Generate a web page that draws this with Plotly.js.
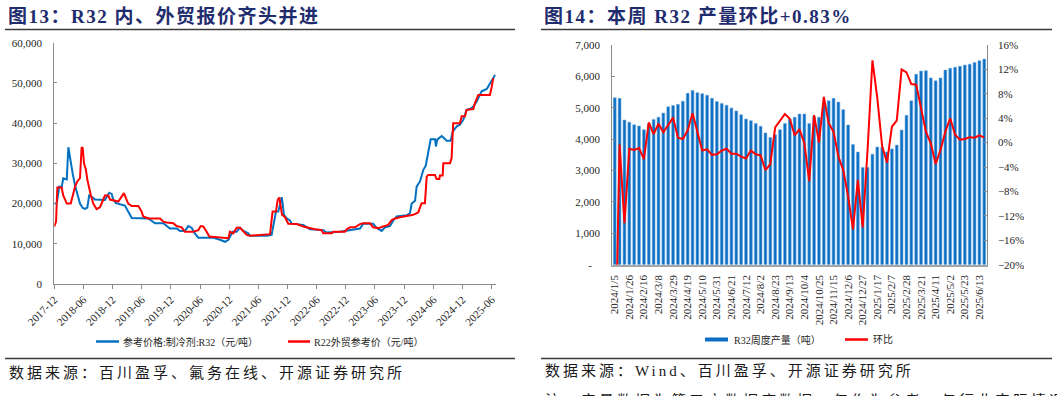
<!DOCTYPE html>
<html>
<head>
<meta charset="utf-8">
<script src="https://cdn.plot.ly/plotly-3.0.1.min.js"></script>
<style>
html,body{margin:0;padding:0;background:#fff;}
#chart{width:1057px;height:396px;}
.annotation[data-index="0"] text,.annotation[data-index="1"] text{letter-spacing:1.5px;}
.annotation[data-index="2"] text,.annotation[data-index="3"] text,.annotation[data-index="4"] text{letter-spacing:3px;}
</style>
</head>
<body>
<div id="chart"></div>
<script>
// ---------- Chart 13: R32 domestic price vs R22 export price (yuan/ton) ----------
const r32Dates = ['2017-12-01','2017-12-16','2018-01-01','2018-01-16','2018-01-26','2018-02-17','2018-02-27','2018-03-14','2018-03-26','2018-04-10','2018-04-24','2018-05-11','2018-05-28','2018-06-11','2018-06-26','2018-07-08','2018-08-13','2018-09-24','2018-10-14','2018-11-10','2018-11-25','2018-12-05','2018-12-22','2019-02-16','2019-03-03','2019-03-24','2019-03-31','2019-07-13','2019-08-03','2019-08-24','2019-10-15','2019-11-05','2019-11-25','2020-01-06','2020-01-27','2020-02-27','2020-03-19','2020-04-09','2020-04-30','2020-05-21','2020-08-23','2020-10-04','2020-11-04','2020-11-25','2020-12-22','2021-01-16','2021-02-06','2021-02-27','2021-03-30','2021-04-09','2021-07-23','2021-08-23','2021-09-02','2021-09-19','2021-10-04','2021-10-25','2021-10-31','2021-11-08','2021-11-25','2021-12-16','2021-12-26','2022-03-09','2022-04-20','2022-07-12','2022-08-02','2022-10-25','2023-02-27','2023-03-20','2023-05-21','2023-06-12','2023-07-13','2023-08-03','2023-09-03','2023-09-24','2023-10-15','2023-12-17','2024-01-06','2024-01-17','2024-02-07','2024-02-17','2024-03-09','2024-03-30','2024-04-14','2024-04-30','2024-05-15','2024-06-11','2024-06-17','2024-06-25','2024-07-23','2024-08-06','2024-08-23','2024-09-17','2024-09-30','2024-10-25','2024-11-14','2024-12-05','2024-12-26','2025-01-16','2025-02-06','2025-02-27','2025-03-30','2025-05-01','2025-05-21','2025-06-11','2025-06-22'];
const r32Price = [20000,20000,24200,24000,26300,26000,34000,30000,27500,24500,22300,20000,18900,18700,19000,22200,21000,21000,20900,22700,22400,21000,20100,19500,18400,16800,16400,16300,15800,15100,15100,14500,13800,13800,13200,13200,14400,14000,12500,11500,11500,11000,10500,11000,13000,13000,14000,13200,12600,12000,12000,12200,14300,18000,18000,21600,20000,17200,16300,15800,15000,14700,13600,13400,12800,13000,13800,15000,15000,13900,13200,14100,14400,15800,16800,17100,17600,20000,20700,24200,25500,28400,29400,32500,36000,36000,34200,35900,36800,36300,35600,35600,37900,39200,39600,40800,43300,43500,44100,45400,47900,48500,50000,51200,52000];

const r22Dates = ['2017-12-01','2017-12-12','2017-12-20','2018-01-16','2018-01-26','2018-02-17','2018-03-14','2018-03-30','2018-04-10','2018-04-24','2018-05-11','2018-05-21','2018-05-28','2018-06-05','2018-06-17','2018-06-26','2018-07-08','2018-07-17','2018-08-02','2018-08-23','2018-09-13','2018-10-04','2018-10-14','2018-11-04','2018-11-15','2019-01-06','2019-01-27','2019-02-10','2019-02-23','2019-03-09','2019-03-31','2019-05-11','2019-06-01','2019-06-11','2019-07-13','2019-09-24','2019-10-15','2019-11-05','2019-12-16','2020-01-06','2020-02-07','2020-02-27','2020-04-19','2020-05-21','2020-06-05','2020-06-21','2020-07-12','2020-07-29','2020-11-25','2020-12-05','2020-12-26','2021-01-16','2021-02-06','2021-02-27','2021-03-20','2021-04-09','2021-08-13','2021-08-29','2021-09-19','2021-09-30','2021-10-10','2021-10-19','2021-10-27','2021-11-15','2021-12-05','2022-01-27','2022-03-09','2022-05-21','2022-07-02','2022-07-12','2022-09-03','2022-09-13','2022-11-25','2022-12-06','2022-12-27','2023-01-27','2023-02-27','2023-03-20','2023-05-01','2023-05-21','2023-06-22','2023-07-23','2023-08-23','2023-09-14','2023-10-04','2023-11-05','2023-12-17','2024-01-27','2024-02-27','2024-03-19','2024-04-09','2024-04-20','2024-04-30','2024-06-11','2024-06-21','2024-07-08','2024-07-12','2024-07-29','2024-08-02','2024-09-13','2024-09-23','2024-10-03','2024-11-14','2024-11-25','2024-12-16','2024-12-26','2025-02-06','2025-02-16','2025-03-09','2025-05-21','2025-06-01','2025-06-11'];
const r22Price = [14300,15500,24000,24000,22000,20000,20000,22600,24200,25500,26300,34000,33800,30000,28400,25900,23600,22200,20000,18600,19100,21000,22000,22000,21000,20500,21700,22600,21300,20000,19400,19400,18000,16800,16300,16300,15500,15300,15100,14400,14100,13000,13000,13400,14400,14300,13000,11800,11400,13000,12600,14000,14000,13000,12200,12000,12400,18000,18000,20900,21500,19300,17200,16600,15000,14900,14300,13600,13400,12600,12600,13000,13000,13600,14100,14100,14900,15100,15100,14100,13900,14300,14700,15900,16300,16600,16900,17200,17800,20100,20100,26700,27100,27100,26100,26100,27000,27000,30000,30000,31300,40000,40000,41700,41700,43300,43500,45000,47000,47000,49000,51200];

// ---------- Chart 14: weekly R32 output (ton) and week-on-week change (%) ----------
const weeks = ['2024/1/5','2024/1/12','2024/1/19','2024/1/26','2024/2/2','2024/2/9','2024/2/16','2024/2/23','2024/3/1','2024/3/8','2024/3/15','2024/3/22','2024/3/29','2024/4/5','2024/4/12','2024/4/19','2024/4/26','2024/5/3','2024/5/10','2024/5/17','2024/5/24','2024/5/31','2024/6/7','2024/6/14','2024/6/21','2024/6/28','2024/7/5','2024/7/12','2024/7/19','2024/7/26','2024/8/2','2024/8/9','2024/8/16','2024/8/23','2024/8/30','2024/9/6','2024/9/13','2024/9/20','2024/9/27','2024/10/4','2024/10/11','2024/10/18','2024/10/25','2024/11/1','2024/11/8','2024/11/15','2024/11/22','2024/11/29','2024/12/6','2024/12/13','2024/12/20','2024/12/27','2025/1/3','2025/1/10','2025/1/17','2025/1/24','2025/1/31','2025/2/7','2025/2/14','2025/2/21','2025/2/28','2025/3/7','2025/3/14','2025/3/21','2025/3/28','2025/4/4','2025/4/11','2025/4/18','2025/4/25','2025/5/2','2025/5/9','2025/5/16','2025/5/23','2025/5/30','2025/6/6','2025/6/13','2025/6/20'];
const output = [5320,5300,4610,4540,4460,4420,4300,4490,4630,4700,4830,5030,5070,5110,5210,5460,5550,5480,5450,5400,5300,5200,5140,5080,4990,4900,4780,4640,4590,4500,4410,4200,4050,4140,4300,4500,4640,4700,4800,4800,4500,4720,4700,5150,5220,5300,5180,4940,4450,3830,3590,3100,3100,3520,3750,3740,3590,3690,3810,4290,4760,5220,6070,6170,6180,5950,5860,5950,6200,6260,6290,6320,6360,6390,6440,6500,6550];
const wow = [-40,-0.3,-13.2,-1.0,-1.2,-0.9,-2.7,3.3,1.4,3.1,1.7,2.8,4.1,0.8,0.6,2.0,4.8,1.8,-1.3,-1.1,-2.0,-1.9,-1.3,-1.0,-1.8,-1.8,-2.3,-2.6,-1.3,-1.9,-2.1,-4.5,-3.5,2.5,3.7,4.7,3.9,1.2,2.2,-0.1,-6.3,4.5,0.0,7.5,3.2,1.8,-2.3,-4.5,-8.8,-14.2,-6.1,-13.9,-1.2,13.5,7.3,-0.6,-3.3,2.6,3.6,12.0,11.5,9.6,9.5,5.9,1.8,-0.1,-3.5,-1.2,1.8,4.0,1.3,0.5,0.6,0.9,0.8,1.2,0.83];

const leftTicks = [0,1000,2000,3000,4000,5000,6000,7000];
const leftTickText = ['-\u00a0\u00a0\u00a0','1,000','2,000','3,000','4,000','5,000','6,000','7,000'];

const W = 1057, H = 396;
const px = x => x / W;
const py = y => 1 - y / H;

const tickFont = {family: 'Liberation Serif, Times New Roman, serif', size: 11, color: '#262626'};
const cjk = 'Liberation Serif, Noto Sans CJK SC, sans-serif';
const navy = '#1F2C6E';
const axisGray = '#8C8C8C';

const traces = [
  {type: 'scatter', mode: 'lines', x: r32Dates, y: r32Price, xaxis: 'x', yaxis: 'y',
   line: {color: '#0070C0', width: 2}, name: '参考价格:制冷剂:R32（元/吨）'},
  {type: 'scatter', mode: 'lines', x: r22Dates, y: r22Price, xaxis: 'x', yaxis: 'y',
   line: {color: '#FF0000', width: 2}, name: 'R22外贸参考价（元/吨）'},
  {type: 'bar', x: weeks, y: output, xaxis: 'x2', yaxis: 'y2', width: 0.58,
   marker: {color: '#0A6FC2', line: {color: '#6FAAE3', width: 0.6}}, name: 'R32周度产量（吨）'},
  {type: 'scatter', mode: 'lines', x: weeks, y: wow, xaxis: 'x2', yaxis: 'y3',
   line: {color: '#FF0000', width: 2}, name: '环比'}
];

const layout = {
  width: W, height: H, autosize: false,
  margin: {l: 0, r: 0, t: 0, b: 0},
  paper_bgcolor: '#ffffff', plot_bgcolor: 'rgba(0,0,0,0)',
  showlegend: false,
  xaxis: {
    type: 'date', domain: [px(54.3), px(496)], anchor: 'y',
    range: ['2017-12-01', '2025-06-28'],
    tick0: '2017-12-01', dtick: 'M6', tickformat: '%Y-%m', tickangle: -45,
    ticks: 'outside', ticklen: 4, tickcolor: axisGray,
    showline: true, linecolor: axisGray, linewidth: 1,
    showgrid: false, zeroline: false, tickfont: tickFont
  },
  yaxis: {
    domain: [py(284), py(42.7)], anchor: 'x',
    range: [0, 60000], dtick: 10000, tickformat: ',d',
    ticks: 'inside', ticklen: 3, tickcolor: axisGray,
    showline: true, linecolor: axisGray, linewidth: 1,
    showgrid: false, zeroline: false, tickfont: tickFont, ticklabelstandoff: 9
  },
  xaxis2: {
    type: 'category', domain: [px(612.3), px(986.7)], anchor: 'y2',
    range: [-0.5, weeks.length - 0.5],
    tickmode: 'array', tickvals: weeks,
    ticktext: weeks.map((w, i) => (i % 3 === 0 ? w : '')),
    tickangle: -90, ticks: '', showline: true, linecolor: '#A6A6A6', linewidth: 2,
    showgrid: false, zeroline: false, tickfont: tickFont, ticklabelstandoff: 4
  },
  yaxis2: {
    domain: [py(264.7), py(45)], anchor: 'x2',
    range: [0, 7000], tickmode: 'array', tickvals: leftTicks, ticktext: leftTickText,
    ticks: 'inside', ticklen: 3, tickcolor: axisGray,
    showline: true, linecolor: axisGray, linewidth: 1,
    showgrid: false, zeroline: false, tickfont: tickFont, ticklabelstandoff: 9
  },
  yaxis3: {
    overlaying: 'y2', side: 'right', anchor: 'x2',
    range: [-20, 16], dtick: 4, ticksuffix: '%',
    ticks: 'inside', ticklen: 3, tickcolor: axisGray,
    showline: true, linecolor: axisGray, linewidth: 1,
    showgrid: false, zeroline: false, tickfont: tickFont, ticklabelstandoff: 8
  },
  bargap: 0.4,
  shapes: [
    {type: 'line', xref: 'paper', yref: 'paper', x0: px(5), x1: px(515), y0: py(29.5), y1: py(29.5), line: {color: '#3A3A3A', width: 1.5}},
    {type: 'line', xref: 'paper', yref: 'paper', x0: px(541), x1: px(1052), y0: py(29.5), y1: py(29.5), line: {color: '#3A3A3A', width: 1.5}},
    {type: 'line', xref: 'paper', yref: 'paper', x0: px(5), x1: px(515), y0: py(358.5), y1: py(358.5), line: {color: '#3A3A3A', width: 1.5}},
    {type: 'line', xref: 'paper', yref: 'paper', x0: px(541), x1: px(1052), y0: py(358.5), y1: py(358.5), line: {color: '#3A3A3A', width: 1.5}},
    // legend keys
    {type: 'line', xref: 'paper', yref: 'paper', x0: px(96), x1: px(119), y0: py(341.5), y1: py(341.5), line: {color: '#0070C0', width: 2.5}},
    {type: 'line', xref: 'paper', yref: 'paper', x0: px(288), x1: px(310), y0: py(341.5), y1: py(341.5), line: {color: '#FF0000', width: 2.5}},
    {type: 'rect', xref: 'paper', yref: 'paper', x0: px(705), x1: px(728), y0: py(341.5), y1: py(337.5), line: {width: 0}, fillcolor: '#0A6FC2'},
    {type: 'line', xref: 'paper', yref: 'paper', x0: px(845), x1: px(868), y0: py(339.5), y1: py(339.5), line: {color: '#FF0000', width: 2.5}}
  ],
  annotations: [
    {xref: 'paper', yref: 'paper', x: px(6), y: py(16.5), xanchor: 'left', yanchor: 'middle', align: 'left', showarrow: false,
     text: '<b>图13：R32 内、外贸报价齐头并进</b>', font: {family: cjk, size: 19, color: navy}},
    {xref: 'paper', yref: 'paper', x: px(542), y: py(16.5), xanchor: 'left', yanchor: 'middle', align: 'left', showarrow: false,
     text: '<b>图14：本周 R32 产量环比+0.83%</b>', font: {family: cjk, size: 19, color: navy}},
    {xref: 'paper', yref: 'paper', x: px(7), y: py(371), xanchor: 'left', yanchor: 'middle', align: 'left', showarrow: false,
     text: '数据来源：百川盈孚、氟务在线、开源证券研究所', font: {family: 'Noto Sans CJK SC, sans-serif', size: 15, color: '#1a1a1a'}},
    {xref: 'paper', yref: 'paper', x: px(543), y: py(371), xanchor: 'left', yanchor: 'middle', align: 'left', showarrow: false,
     text: '数据来源：Wind、百川盈孚、开源证券研究所', font: {family: 'Liberation Serif, Noto Sans CJK SC, sans-serif', size: 15, color: '#1a1a1a'}},
    {xref: 'paper', yref: 'paper', x: px(543), y: py(387), xanchor: 'left', yanchor: 'top', align: 'left', showarrow: false,
     text: '注：产量数据为第三方数据库数据，仅作为参考，与行业实际情况或有出入', font: {family: 'Noto Sans CJK SC, sans-serif', size: 15, color: '#1a1a1a'}},
    {xref: 'paper', yref: 'paper', x: px(121), y: py(341.5), xanchor: 'left', yanchor: 'middle', align: 'left', showarrow: false,
     text: '参考价格:制冷剂:R32（元/吨）', font: {family: cjk, size: 10, color: '#262626'}},
    {xref: 'paper', yref: 'paper', x: px(312), y: py(341.5), xanchor: 'left', yanchor: 'middle', align: 'left', showarrow: false,
     text: 'R22外贸参考价（元/吨）', font: {family: cjk, size: 10, color: '#262626'}},
    {xref: 'paper', yref: 'paper', x: px(732), y: py(339.5), xanchor: 'left', yanchor: 'middle', align: 'left', showarrow: false,
     text: 'R32周度产量（吨）', font: {family: cjk, size: 10, color: '#262626'}},
    {xref: 'paper', yref: 'paper', x: px(871), y: py(339.5), xanchor: 'left', yanchor: 'middle', align: 'left', showarrow: false,
     text: '环比', font: {family: cjk, size: 10, color: '#262626'}}
  ]
};

Plotly.newPlot('chart', traces, layout, {staticPlot: true, displayModeBar: false});
</script>
</body>
</html>
